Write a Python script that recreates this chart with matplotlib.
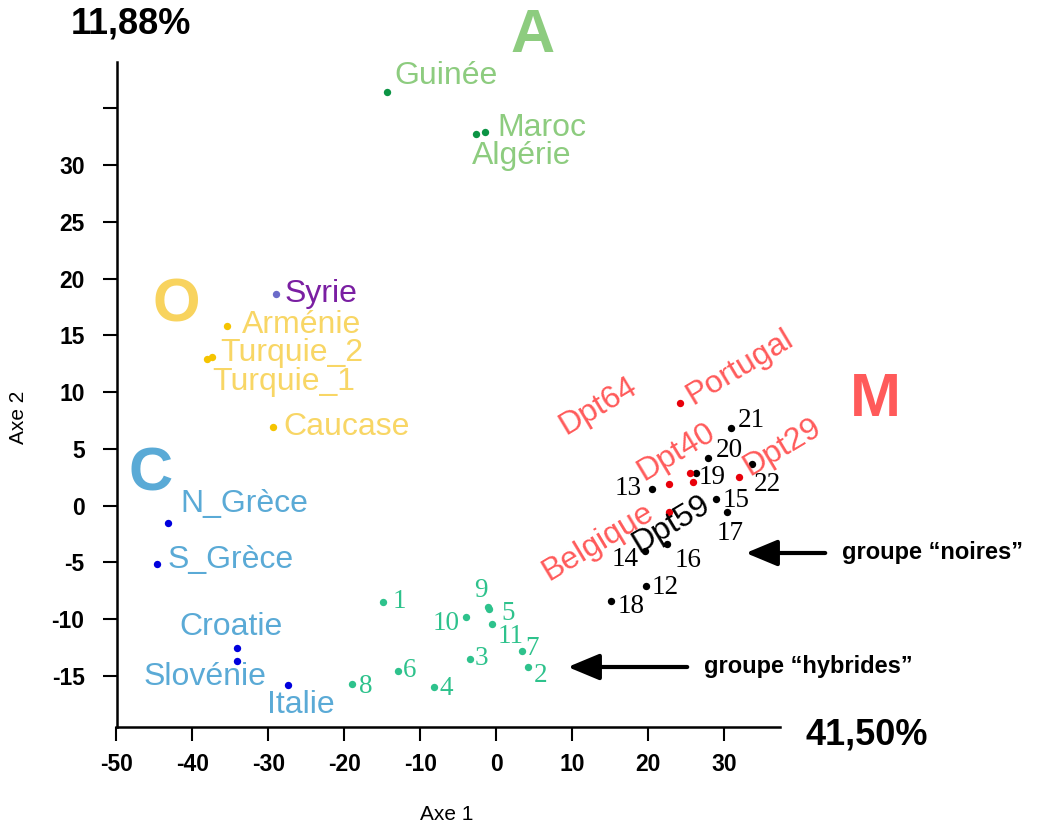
import matplotlib
matplotlib.use("Agg")
import matplotlib.pyplot as plt

plt.rcParams["axes.unicode_minus"] = False

# ---- data ----
afr_names = ["Guinée", "Algérie", "Maroc"]
afr_x = [-14.4, -2.7, -1.4]
afr_y = [36.4, 32.7, 32.9]

ori_names = ["Arménie", "Turquie_1", "Turquie_2", "Caucase"]
ori_x = [-35.4, -38.1, -37.4, -29.4]
ori_y = [15.8, 12.9, 13.1, 6.9]

syr_names = ["Syrie"]
syr_x = [-29.0]
syr_y = [18.6]

cen_names = ["N_Grèce", "S_Grèce", "Croatie", "Slovénie", "Italie"]
cen_x = [-43.2, -44.7, -34.1, -34.1, -27.4]
cen_y = [-1.5, -5.1, -12.5, -13.7, -15.8]

hyb_names = ["1", "2", "3", "4", "5", "6", "7", "8", "9", "10", "11"]
hyb_x = [-14.9, 4.2, -3.5, -8.2, -0.9, -12.9, 3.4, -19.0, -1.1, -3.9, -0.6]
hyb_y = [-8.5, -14.2, -13.5, -16.0, -9.1, -14.6, -12.8, -15.7, -8.9, -9.8, -10.4]

noi_names = ["12", "13", "14", "15", "16", "17", "18", "19", "20", "21", "22"]
noi_x = [19.7, 20.6, 19.6, 29.0, 22.5, 30.4, 15.2, 26.3, 27.9, 30.9, 33.7]
noi_y = [-7.1, 1.5, -4.0, 0.6, -3.4, -0.6, -8.4, 2.9, 4.2, 6.8, 3.7]

med_names = ["Portugal", "Dpt64", "Dpt40", "Dpt59", "Dpt29", "Belgique"]
med_x = [24.2, 22.8, 25.5, 26.0, 32.0, 22.8]
med_y = [9.0, 1.9, 2.9, 2.1, 2.5, -0.6]

x_ticks = [-50, -40, -30, -20, -10, 0, 10, 20, 30]
y_ticks = [-15, -10, -5, 0, 5, 10, 15, 20, 25, 30, 35]
y_tick_labels = ["-15", "-10", "-5", "0", "5", "10", "15", "20", "25", "30", ""]

# ---- label placement (pixel offsets from the point: dx, dy, ha) ----
lab_off = {
    "Guinée": (8, 8, "left"), "Maroc": (12, -4, "left"), "Algérie": (-4, -30, "left"),
    "Syrie": (9, -8, "left"), "Arménie": (15, -7, "left"), "Turquie_2": (8, -4, "left"),
    "Turquie_1": (5, -31, "left"), "Caucase": (10, -8, "left"),
    "N_Grèce": (12, 11, "left"), "S_Grèce": (11, -4, "left"), "Croatie": (-58, 13, "left"),
    "Slovénie": (-94, -24, "left"), "Italie": (-21, -28, "left"),
}
hyb_off = {
    "1": (10, -6, "left"), "9": (-14, 10, "left"), "5": (12, -11, "left"),
    "10": (-34, -13, "left"), "11": (6, -19, "left"), "7": (3, -4, "left"),
    "2": (6, -15, "left"), "3": (5, -6, "left"), "6": (5, -6, "left"),
    "4": (6, -8, "left"), "8": (7, -9, "left"),
}
noi_off = {
    "21": (7, 1, "left"), "20": (8, 1, "left"), "22": (2, -27, "left"),
    "19": (3, -11, "left"), "13": (-11, -6, "right"), "15": (6, -8, "left"),
    "17": (-10, -28, "left"), "16": (8, -23, "left"), "14": (-6, -15, "right"),
    "12": (6, -8, "left"), "18": (6, -12, "left"),
}
# rotated labels: centre offset
med_off = {
    "Portugal": (60, 36), "Dpt64": (-71, 78), "Dpt40": (-13, 21),
    "Dpt59": (-22, -42), "Dpt29": (43, 30), "Belgique": (-71, -30),
}

W, H = 1041, 827
fig = plt.figure(figsize=(W / 100, H / 100), dpi=100)
ax = fig.add_axes([116.5 / W, 1 - 727 / H, (780 - 116.5) / W, (727 - 62) / H])
ax.set_xlim(-50, 37.4)
ax.set_ylim(-19.5, 39.07)
for s in ["top", "right"]:
    ax.spines[s].set_visible(False)
for s in ["left", "bottom"]:
    ax.spines[s].set_linewidth(1.8)
ax.set_xticks(x_ticks)
ax.set_yticks(y_ticks)
ax.set_yticklabels(y_tick_labels)
ax.tick_params(axis="both", length=10, width=1.5, labelsize=16.5)
ax.tick_params(axis="y", pad=13)
ax.tick_params(axis="x", pad=9)
for t in ax.get_xticklabels() + ax.get_yticklabels():
    t.set_fontweight("bold")
    t.set_family("Liberation Sans")

sans = "Liberation Sans"
serif = "Liberation Serif"


def group(xs, ys, names, pcol, lcol, offs, font, size):
    ax.scatter(xs, ys, s=28, color=pcol, zorder=3, linewidths=0)
    for n, x, y in zip(names, xs, ys):
        dx, dy, ha = offs[n]
        ax.annotate(n, (x, y), xytext=(dx, dy), textcoords="offset pixels",
                    ha=ha, va="baseline", color=lcol, fontsize=size, family=font)


group(afr_x, afr_y, afr_names, "#0b9444", "#8dcc7f", lab_off, sans, 23)
group(ori_x, ori_y, ori_names, "#f5c400", "#f8d665", lab_off, sans, 23)
group(syr_x, syr_y, syr_names, "#6b6bc9", "#7a1fa2", lab_off, sans, 23)
group(cen_x, cen_y, cen_names, "#0000dd", "#5aaad6", lab_off, sans, 23)
group(hyb_x, hyb_y, hyb_names, "#2ec28c", "#2ec28c", hyb_off, serif, 19.5)
group(noi_x, noi_y, noi_names, "black", "black", noi_off, serif, 19.5)

ax.scatter(med_x, med_y, s=28, color="#e8000a", zorder=3, linewidths=0)
for n, x, y in zip(med_names, med_x, med_y):
    dx, dy = med_off[n]
    ax.annotate(n, (x, y), xytext=(dx, dy), textcoords="offset pixels",
                ha="center", va="center", rotation=31, rotation_mode="anchor",
                color="black" if n == "Dpt59" else "#ff5a5a", fontsize=23, family=sans)

# big group letters
for letter, px, py, col in [("A", 533, 37, "#8dcc7f"), ("O", 176, 306, "#f8d35e"),
                            ("C", 151, 475, "#5aaad6"), ("M", 875, 400, "#ff5a5a")]:
    fig.text(px / W, 1 - py / H, letter, ha="center", va="center", color=col,
             fontsize=44, fontweight="bold", family=sans)

# inertia percentages
fig.text(131 / W, 1 - 24 / H, "11,88%", ha="center", va="center", fontsize=26,
         fontweight="bold", family=sans)
fig.text(867 / W, 1 - 735 / H, "41,50%", ha="center", va="center", fontsize=26,
         fontweight="bold", family=sans)

# axis titles
fig.text(447 / W, 1 - 815 / H, "Axe 1", ha="center", va="center", fontsize=15, family=sans)
fig.text(18 / W, 1 - 417 / H, "Axe 2", ha="center", va="center", fontsize=15,
         rotation=90, family=sans)

# group arrows
for txt, tip, tail, ty in [("groupe \u201cnoires\u201d", 743, 828, 553),
                           ("groupe \u201chybrides\u201d", 565, 690, 667)]:
    fig.add_artist(matplotlib.patches.FancyArrowPatch(
        (tail / W, 1 - ty / H), (tip / W, 1 - ty / H), transform=fig.transFigure,
        arrowstyle="-|>,head_length=12,head_width=5", mutation_scale=1.6,
        lw=3, color="black"))
    fig.text((tail + 14) / W, 1 - ty / H, txt, ha="left", va="center",
             fontsize=17, fontweight="bold", family=sans)

fig.savefig("out.png", dpi=100)
